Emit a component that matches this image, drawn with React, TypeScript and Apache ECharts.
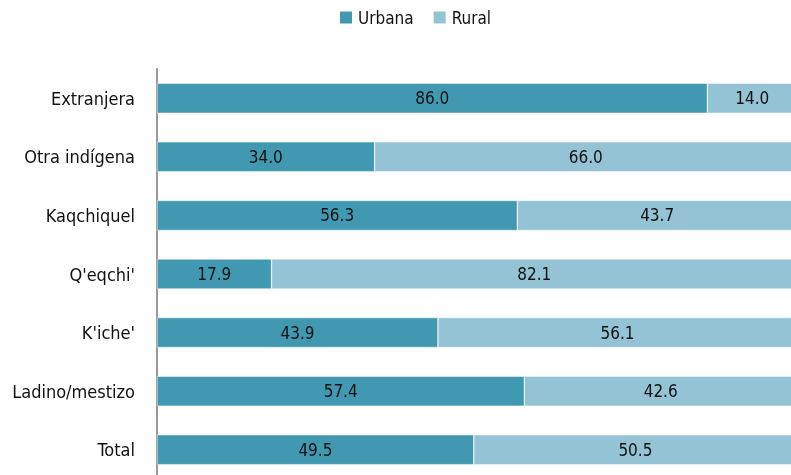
import React, { useEffect, useRef } from "react";
import * as echarts from "echarts";

const categories = ["Total", "Ladino/mestizo", "K'iche'", "Q'eqchi'", "Kaqchiquel", "Otra indígena", "Extranjera"];
const urbana = [49.5, 57.4, 43.9, 17.9, 56.3, 34.0, 86.0];
const rural = [50.5, 42.6, 56.1, 82.1, 43.7, 66.0, 14.0];
const seriesNames = ["Urbana", "Rural"];

const FONT = "'Liberation Sans Narrow', 'DejaVu Sans Condensed', 'Arial Narrow', sans-serif";

export default function App() {
  const ref = useRef<HTMLDivElement>(null);
  useEffect(() => {
    if (!ref.current) return;
    const chart = echarts.init(ref.current, null, { renderer: "svg" });
    const label = {
      show: true,
      position: "inside",
      color: "#111",
      fontFamily: FONT,
      fontSize: 17,
      fontWeight: 500,
      formatter: (p: any) => Number(p.value).toFixed(1),
    };
    chart.setOption({
      animation: false,
      textStyle: { fontFamily: FONT },
      legend: {
        data: seriesNames,
        left: 333,
        top: 4,
        itemWidth: 14,
        itemHeight: 14,
        itemGap: 18,
        icon: "rect",
        textStyle: { fontFamily: FONT, fontSize: 17, fontWeight: 500, color: "#111" },
      },
      grid: { left: 157, right: -6, top: 69, height: 410, containLabel: false, outerBoundsMode: "none" },
      xAxis: { type: "value", min: 0, max: 100, show: false },
      yAxis: {
        type: "category",
        data: categories,
        axisLine: { show: true, lineStyle: { color: "#999", width: 2 } },
        axisTick: { show: false },
        axisLabel: { fontFamily: FONT, fontSize: 18, fontWeight: 500, color: "#111", margin: 22 },
      },
      series: [
        {
          name: seriesNames[0],
          type: "bar",
          stack: "a",
          data: urbana,
          barWidth: 30,
          itemStyle: { color: "#4199B1", borderColor: "#fff", borderWidth: 0.5 },
          label,
        },
        {
          name: seriesNames[1],
          type: "bar",
          stack: "a",
          data: rural,
          barWidth: 30,
          itemStyle: { color: "#93C3D5", borderColor: "#fff", borderWidth: 0.5 },
          label,
        },
      ],
    });
    return () => chart.dispose();
  }, []);
  return <div ref={ref} style={{ position: "fixed", left: 0, top: 0, width: 791, height: 475 }} />;
}
